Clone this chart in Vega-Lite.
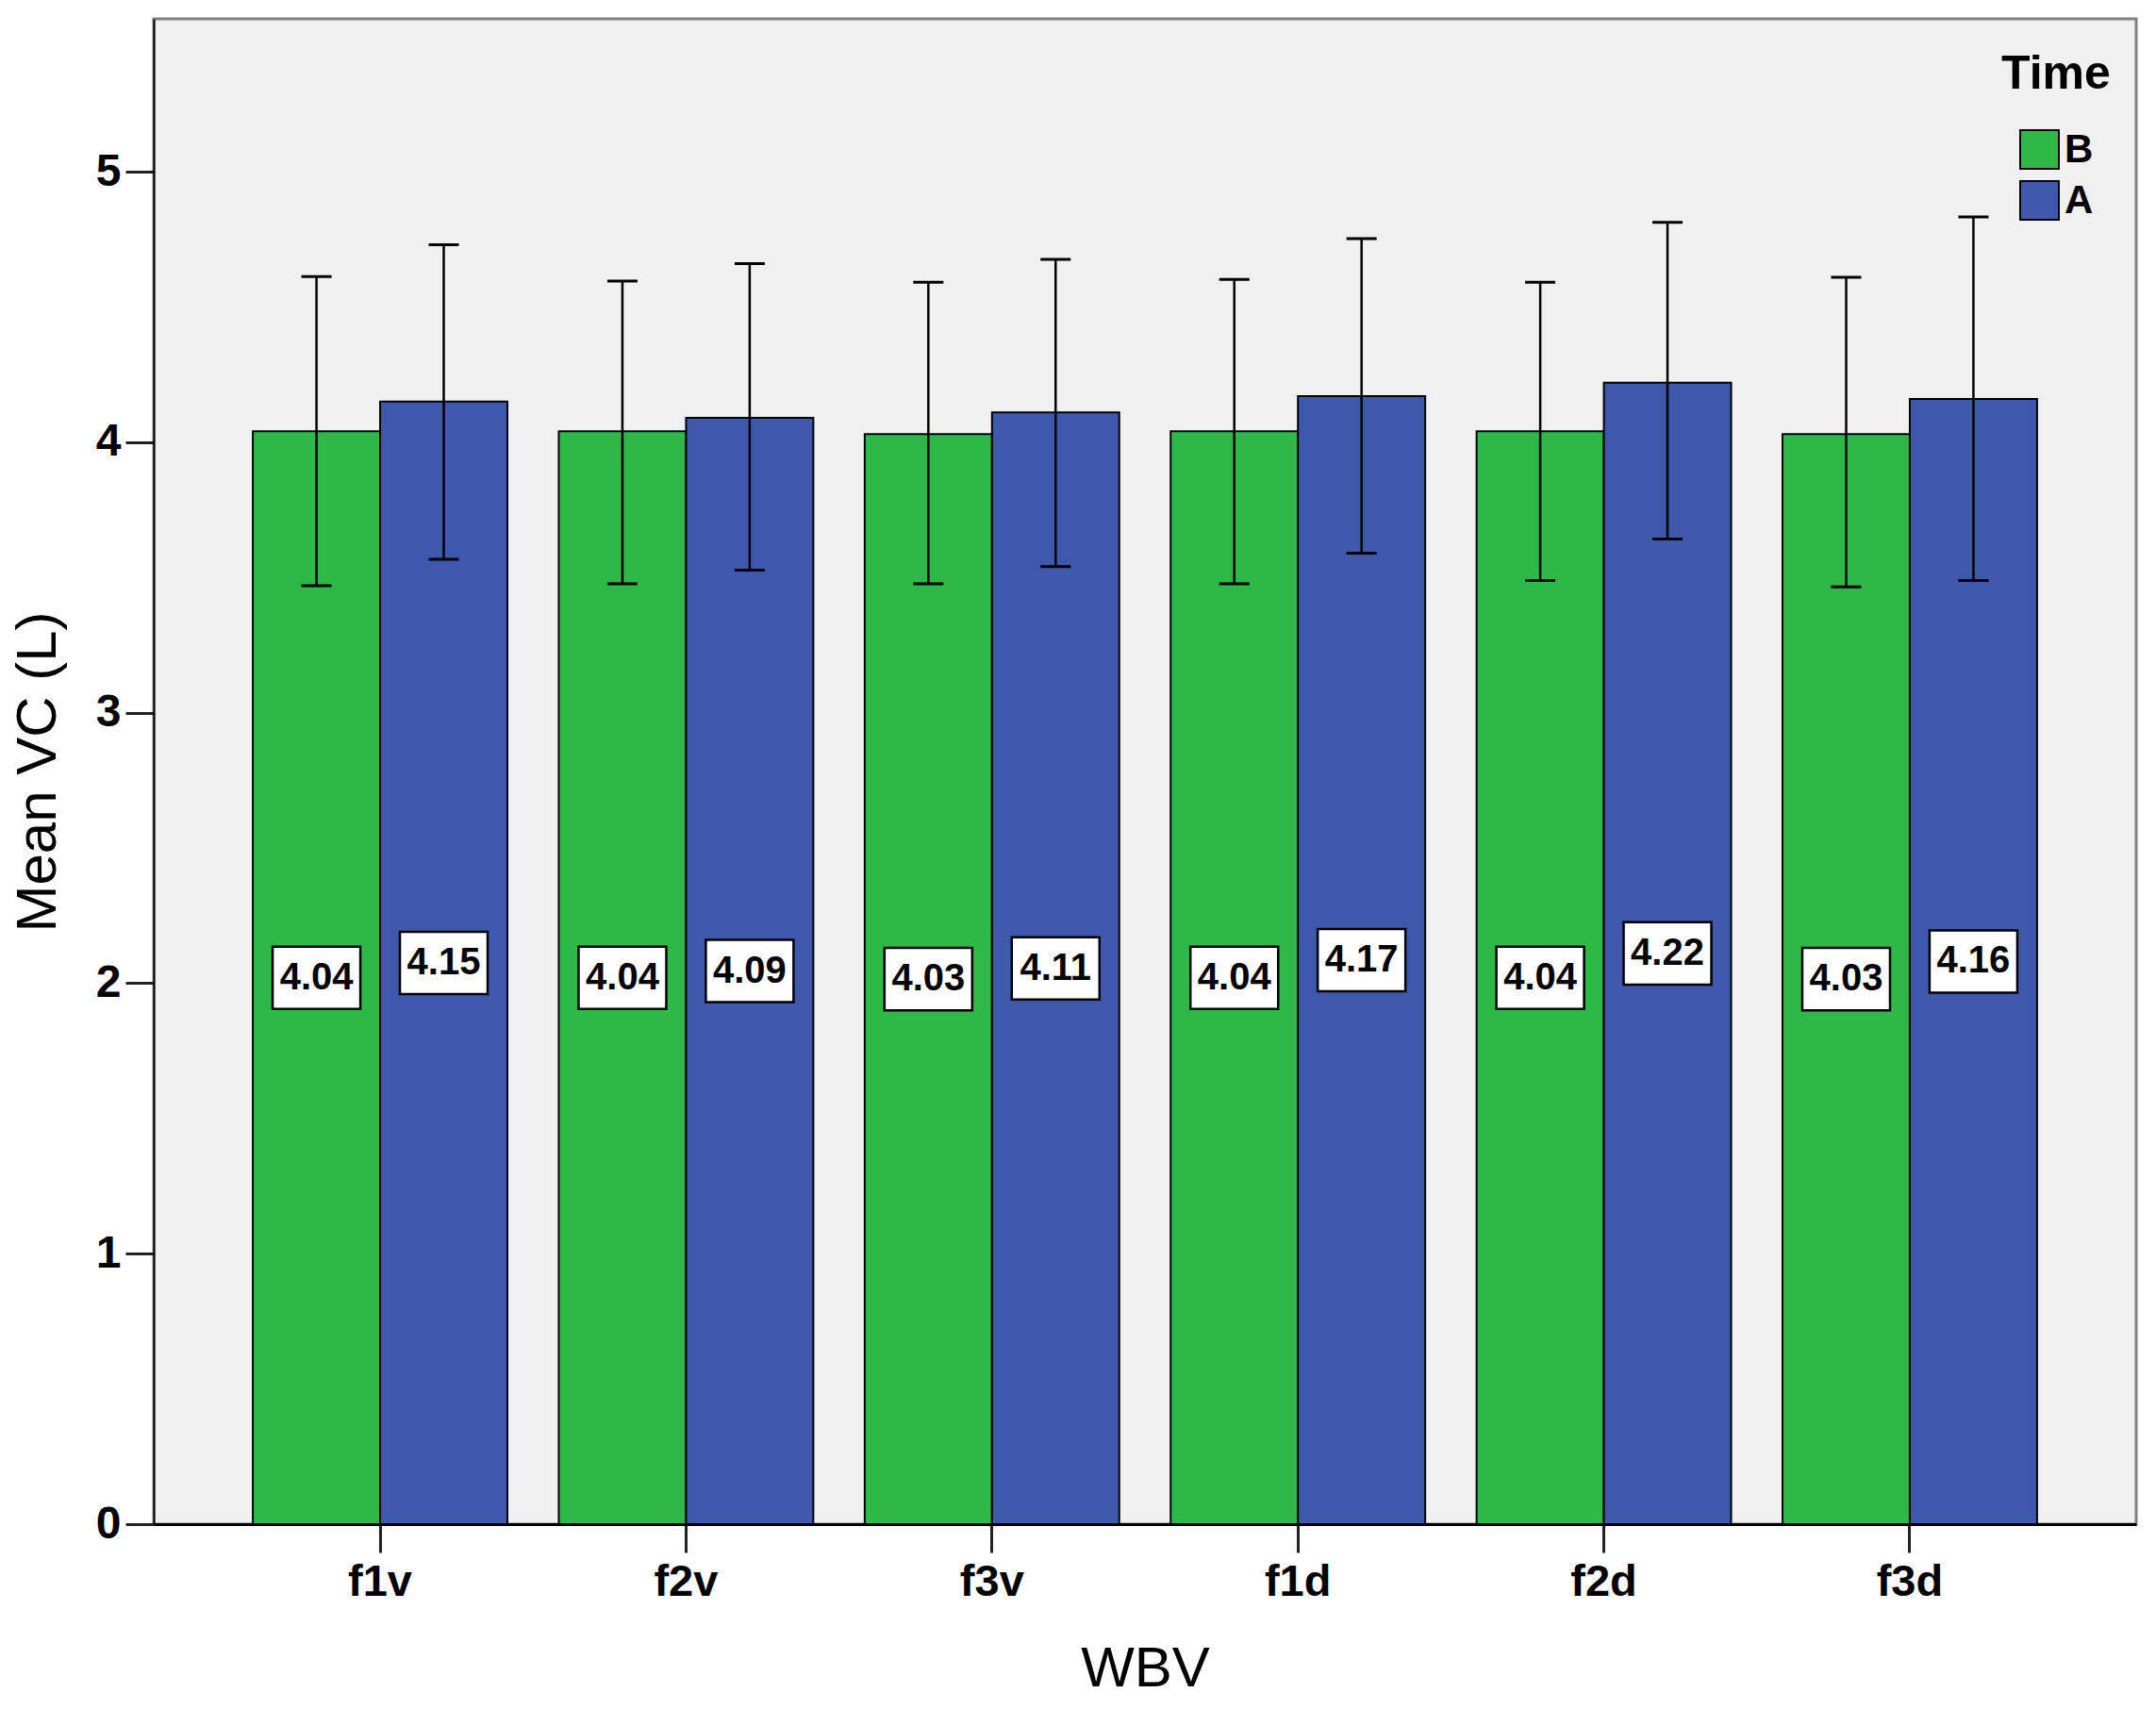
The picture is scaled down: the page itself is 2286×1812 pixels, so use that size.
{
  "$schema": "https://vega.github.io/schema/vega-lite/v6.json",
  "width": 2102,
  "height": 1596,
  "autosize": {"type": "none"},
  "padding": {"left": 163, "top": 20, "right": 21, "bottom": 196},
  "background": "white",
  "config": {
    "view": {"fill": "#F0F0F0", "stroke": "#808080", "strokeWidth": 3}
  },
  "data": {
    "values": [
      {"WBV": "f1v", "Time": "B", "mean": 4.04, "lower": 3.469, "upper": 4.612},
      {"WBV": "f1v", "Time": "A", "mean": 4.15, "lower": 3.567, "upper": 4.730},
      {"WBV": "f2v", "Time": "B", "mean": 4.04, "lower": 3.476, "upper": 4.596},
      {"WBV": "f2v", "Time": "A", "mean": 4.09, "lower": 3.527, "upper": 4.660},
      {"WBV": "f3v", "Time": "B", "mean": 4.03, "lower": 3.476, "upper": 4.591},
      {"WBV": "f3v", "Time": "A", "mean": 4.11, "lower": 3.540, "upper": 4.676},
      {"WBV": "f1d", "Time": "B", "mean": 4.04, "lower": 3.476, "upper": 4.602},
      {"WBV": "f1d", "Time": "A", "mean": 4.17, "lower": 3.590, "upper": 4.753},
      {"WBV": "f2d", "Time": "B", "mean": 4.04, "lower": 3.489, "upper": 4.591},
      {"WBV": "f2d", "Time": "A", "mean": 4.22, "lower": 3.642, "upper": 4.813},
      {"WBV": "f3d", "Time": "B", "mean": 4.03, "lower": 3.465, "upper": 4.610},
      {"WBV": "f3d", "Time": "A", "mean": 4.16, "lower": 3.489, "upper": 4.833}
    ]
  },
  "encoding": {
    "x": {
      "field": "WBV",
      "type": "nominal",
      "sort": ["f1v", "f2v", "f3v", "f1d", "f2d", "f3d"],
      "title": "WBV",
      "scale": {"paddingInner": 0.168, "paddingOuter": 0.324},
      "axis": {
        "labelAngle": 0,
        "domainColor": "black",
        "domainWidth": 3,
        "tickColor": "#222222",
        "tickWidth": 3,
        "tickSize": 30,
        "labelFont": "Liberation Sans, Arial, sans-serif",
        "labelFontSize": 47,
        "labelFontWeight": "bold",
        "labelColor": "black",
        "labelPadding": 8,
        "titleFont": "Liberation Sans, Arial, sans-serif",
        "titleFontSize": 60,
        "titleFontWeight": "normal",
        "titleColor": "black",
        "titlePadding": 40
      }
    },
    "xOffset": {
      "field": "Time",
      "type": "nominal",
      "sort": ["B", "A"],
      "scale": {"paddingInner": 0, "paddingOuter": 0}
    }
  },
  "layer": [
    {
      "mark": {"type": "bar", "stroke": "black", "strokeWidth": 2},
      "encoding": {
        "y": {
          "field": "mean",
          "type": "quantitative",
          "title": "Mean VC (L)",
          "scale": {"domain": [0, 5.565], "nice": false, "zero": true},
          "axis": {
            "values": [0, 1, 2, 3, 4, 5],
            "format": "d",
            "grid": false,
            "domainColor": "black",
            "domainWidth": 2,
            "tickColor": "#222222",
            "tickWidth": 3,
            "tickSize": 30,
            "labelFont": "Liberation Sans, Arial, sans-serif",
            "labelFontSize": 48,
            "labelFontWeight": "bold",
            "labelColor": "black",
            "labelPadding": 5,
            "titleFont": "Liberation Sans, Arial, sans-serif",
            "titleFontSize": 60,
            "titleFontWeight": "normal",
            "titleColor": "black",
            "titleX": -123,
            "titleBaseline": "middle",
            "titlePadding": 30
          }
        },
        "color": {
          "field": "Time",
          "type": "nominal",
          "sort": ["B", "A"],
          "scale": {"domain": ["B", "A"], "range": ["#2EB848", "#3E58AC"]},
          "legend": {
            "orient": "none",
            "legendX": 1959,
            "legendY": 34,
            "title": "Time",
            "titleFont": "Liberation Sans, Arial, sans-serif",
            "titleFontSize": 50,
            "titleFontWeight": "bold",
            "titleColor": "black",
            "titlePadding": 33,
            "symbolType": "square",
            "symbolSize": 1681,
            "symbolStrokeColor": "black",
            "symbolStrokeWidth": 2,
            "symbolOffset": 19,
            "labelFont": "Liberation Sans, Arial, sans-serif",
            "labelFontSize": 42,
            "labelFontWeight": "bold",
            "labelColor": "black",
            "labelOffset": 5,
            "rowPadding": 5,
            "padding": 0
          }
        }
      }
    },
    {
      "mark": {"type": "rule", "stroke": "black", "strokeWidth": 2.5},
      "encoding": {
        "y": {"field": "lower", "type": "quantitative", "title": "Mean VC (L)"},
        "y2": {"field": "upper"}
      }
    },
    {
      "mark": {"type": "tick", "color": "black", "thickness": 3, "size": 32, "opacity": 1},
      "encoding": {
        "y": {"field": "upper", "type": "quantitative", "title": "Mean VC (L)"}
      }
    },
    {
      "mark": {"type": "tick", "color": "black", "thickness": 3, "size": 32, "opacity": 1},
      "encoding": {
        "y": {"field": "lower", "type": "quantitative", "title": "Mean VC (L)"}
      }
    },
    {
      "transform": [{"calculate": "datum.mean / 2", "as": "mid"}],
      "mark": {
        "type": "point",
        "shape": "M-1,-0.71L1,-0.71L1,0.71L-1,0.71Z",
        "size": 8649,
        "filled": true,
        "fill": "white",
        "stroke": "black",
        "strokeWidth": 2.5,
        "opacity": 1
      },
      "encoding": {
        "y": {"field": "mid", "type": "quantitative", "title": "Mean VC (L)"}
      }
    },
    {
      "transform": [{"calculate": "datum.mean / 2", "as": "mid"}],
      "mark": {
        "type": "text",
        "font": "Liberation Sans, Arial, sans-serif",
        "fontWeight": "bold",
        "fontSize": 40,
        "baseline": "middle",
        "align": "center",
        "color": "black"
      },
      "encoding": {
        "y": {"field": "mid", "type": "quantitative", "title": "Mean VC (L)"},
        "text": {"field": "mean", "type": "quantitative", "format": ".2f"}
      }
    }
  ]
}
